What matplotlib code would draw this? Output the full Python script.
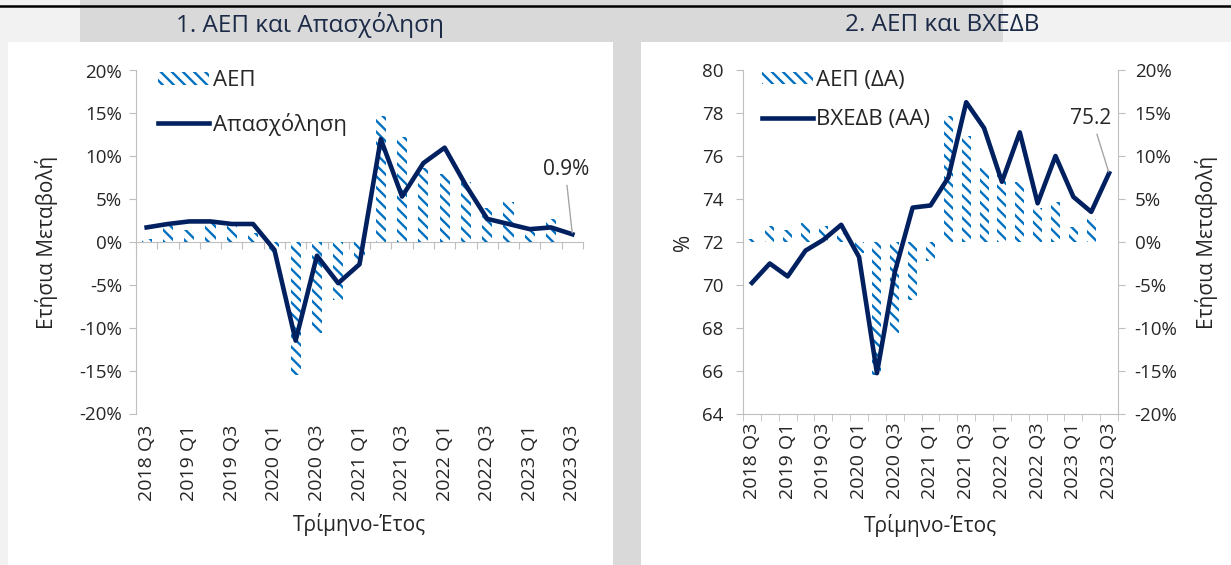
import numpy as np
import matplotlib

matplotlib.use("Agg")
import matplotlib.pyplot as plt
from matplotlib.lines import Line2D
from matplotlib.patches import Rectangle
from matplotlib.ticker import FuncFormatter, MultipleLocator

W, H = 1231, 565

quarters = ["2018 Q3", "2018 Q4", "2019 Q1", "2019 Q2", "2019 Q3", "2019 Q4",
            "2020 Q1", "2020 Q2", "2020 Q3", "2020 Q4", "2021 Q1", "2021 Q2",
            "2021 Q3", "2021 Q4", "2022 Q1", "2022 Q2", "2022 Q3", "2022 Q4",
            "2023 Q1", "2023 Q2", "2023 Q3"]
# ΑΕΠ, ετήσια μεταβολή (%) - τελευταίο τρίμηνο χωρίς στοιχείο
gdp = [0.4, 1.9, 1.4, 2.2, 1.9, 1.0, -1.3, -15.5, -10.6, -6.8, -2.2, 14.7,
       12.3, 8.6, 7.9, 7.0, 4.0, 4.7, 1.8, 2.7, np.nan]
# Απασχόληση, ετήσια μεταβολή (%)
emp = [1.7, 2.1, 2.4, 2.4, 2.1, 2.1, -0.9, -11.5, -1.6, -4.8, -2.6, 12.0,
       5.3, 9.2, 11.0, 6.6, 2.7, 2.1, 1.5, 1.7, 0.9]
# ΒΧΕΔΒ (%)
capu = [70.1, 71.0, 70.4, 71.6, 72.1, 72.8, 71.3, 65.9, 70.6, 73.6, 73.7, 75.0,
        78.5, 77.3, 74.8, 77.1, 73.8, 76.0, 74.1, 73.4, 75.2]

NAVY = "#002060"
BLUE = "#0070C0"
TXT = "#262626"
AXC = "#BFBFBF"
HEAD = "#D9D9D9"
LIGHT = "#F2F2F2"
TITLE = "#1B2A47"
FS = 15    # axis labels, annotations
LFS = 16   # legend

plt.rcParams.update({
    "font.family": ["Open Sans", "DejaVu Sans"], "font.size": 13,
    "text.color": TXT, "xtick.color": TXT, "ytick.color": TXT,
    "axes.labelcolor": TXT, "hatch.linewidth": 1.7,
    "xtick.labelsize": 14, "ytick.labelsize": 13.5,
})

fig = plt.figure(figsize=(W / 100, H / 100), dpi=100, facecolor=LIGHT)


def box(x0, y0, x1, y1, color):
    fig.add_artist(Rectangle((x0 / W, 1 - y1 / H), (x1 - x0) / W, (y1 - y0) / H,
                             transform=fig.transFigure, facecolor=color,
                             edgecolor="none", zorder=-10))


# page background: grey header band, white panels, black rule at the top
box(80, 0, 1003, H, HEAD)
box(8, 42, 613, H, "white")
box(641, 42, W, H, "white")
fig.add_artist(Line2D([0, 1], [1 - 6 / H] * 2, transform=fig.transFigure,
                      color="black", lw=1.8, zorder=-5))
fig.text(310 / W, 1 - 25 / H, "1. ΑΕΠ και Απασχόληση", ha="center", va="center",
         fontsize=17.5, color=TITLE)
fig.text(942 / W, 1 - 25 / H, "2. ΑΕΠ και ΒΧΕΔΒ", ha="center", va="center",
         fontsize=17.5, color=TITLE)

x = np.arange(len(quarters))
pct = FuncFormatter(lambda v, _: f"{v:.0f}%")

# ---- 1. ΑΕΠ και Απασχόληση
ax1 = fig.add_axes([136 / W, 1 - 413.5 / H, 447 / W, 343 / H])
ax1.set_facecolor("none")
b1 = ax1.bar(x, gdp, width=0.48, facecolor="white", edgecolor=BLUE, linewidth=0,
             hatch="\\\\\\", zorder=2)
l1, = ax1.plot(x, emp, color=NAVY, lw=3.3, zorder=3)
ax1.set_xlim(-0.5, len(x) - 0.5)
ax1.set_ylim(-20, 20)
ax1.yaxis.set_major_locator(MultipleLocator(5))
ax1.yaxis.set_major_formatter(pct)
for s in ("top", "right", "bottom"):
    ax1.spines[s].set_visible(False)
ax1.spines["left"].set_color(AXC)
ax1.tick_params(axis="y", length=5, color=AXC, pad=5)
ax1.set_xticks(x[::2], quarters[::2], rotation=90)
ax1.tick_params(axis="x", length=0, pad=8)
zero = ax1.secondary_xaxis(0.5)
zero.set_alignment("bottom")
zero.set_xticks(np.arange(-0.5, len(x), 1))
zero.set_xticklabels([])
zero.spines["bottom"].set_color(AXC)
zero.spines["top"].set_visible(False)
zero.tick_params(length=5, color=AXC)
ax1.set_ylabel("Ετήσια Μεταβολή", fontsize=FS)
ax1.yaxis.set_label_coords(-0.175, 0.5)
ax1.set_xlabel("Τρίμηνο-Έτος", fontsize=FS)
ax1.xaxis.set_label_coords(0.5, -0.29)
ax1.legend([b1, l1], ["ΑΕΠ", "Απασχόληση"], loc="upper left",
           bbox_to_anchor=(0.05, 1.0), frameon=False,
           handlelength=2.3, handleheight=0.5, labelspacing=0.95,
           handletextpad=0.15, borderaxespad=0, borderpad=0, fontsize=LFS)
ax1.annotate(f"{emp[-1]:.1f}%", xy=(x[-1], emp[-1]), xytext=(-6, 65),
             textcoords="offset pixels", ha="center", va="center", fontsize=FS,
             arrowprops=dict(arrowstyle="-", color="#A6A6A6", lw=1,
                             relpos=(0.5, 0), shrinkA=2, shrinkB=1))

# ---- 2. ΑΕΠ και ΒΧΕΔΒ
ax2 = fig.add_axes([743 / W, 1 - 414 / H, 375 / W, 344 / H])
ax3 = ax2.twinx()
bars = ax3.bar(x, gdp, width=0.5, facecolor="white", edgecolor=BLUE, linewidth=0,
               hatch="\\\\\\", zorder=2)
line, = ax2.plot(x, capu, color=NAVY, lw=3.3, zorder=3)
ax2.set_zorder(ax3.get_zorder() + 1)
ax2.patch.set_visible(False)
ax2.set_xlim(-0.5, len(x) - 0.5)
ax2.set_ylim(64, 80)
ax2.yaxis.set_major_locator(MultipleLocator(2))
ax3.set_ylim(-20, 20)
ax3.yaxis.set_major_locator(MultipleLocator(5))
ax3.yaxis.set_major_formatter(pct)
for s in ("top", "right"):
    ax2.spines[s].set_visible(False)
for s in ("top", "left", "bottom"):
    ax3.spines[s].set_visible(False)
ax2.spines["left"].set_color(AXC)
ax2.spines["bottom"].set_color(AXC)
ax3.spines["right"].set_color(AXC)
ax2.tick_params(axis="y", length=5, color=AXC, pad=9)
ax3.tick_params(axis="y", length=5, color=AXC, pad=7)
ax2.set_xticks(x[::2], quarters[::2], rotation=90)
ax2.set_xticks(np.arange(-0.5, len(x), 1), minor=True)
ax2.tick_params(axis="x", which="major", length=0, pad=6)
ax2.tick_params(axis="x", which="minor", length=5, color=AXC)
ax2.set_ylabel("%", fontsize=FS)
ax2.yaxis.set_label_coords(-0.13, 0.5)
ax3.set_ylabel("Ετήσια Μεταβολή", fontsize=FS)
ax3.yaxis.set_label_coords(1.205, 0.5)
ax2.set_xlabel("Τρίμηνο-Έτος", fontsize=FS)
ax2.xaxis.set_label_coords(0.5, -0.29)
ax2.legend([bars, line], ["ΑΕΠ (ΔΑ)", "ΒΧΕΔΒ (ΑΑ)"], loc="upper left",
           bbox_to_anchor=(0.05, 1.0), frameon=False, handlelength=2.3,
           handleheight=0.5, labelspacing=0.8, handletextpad=0.15,
           borderaxespad=0, borderpad=0, fontsize=LFS)
ax2.annotate(f"{capu[-1]:.1f}", xy=(x[-1], capu[-1]), xytext=(-18, 55),
             textcoords="offset pixels", ha="center", va="center", fontsize=FS,
             arrowprops=dict(arrowstyle="-", color="#A6A6A6", lw=1,
                             relpos=(0.6, 0), shrinkA=2, shrinkB=1))

fig.savefig("out.png", dpi=100, facecolor=LIGHT)
